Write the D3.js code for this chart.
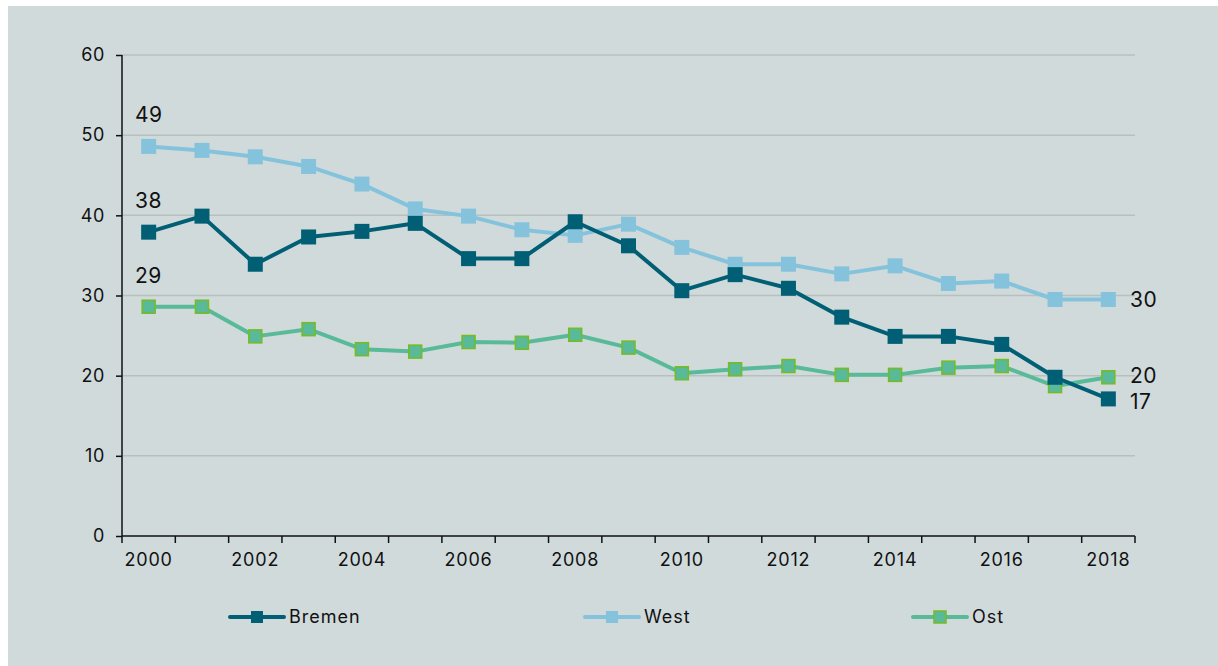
<!DOCTYPE html>
<html>
<head>
<meta charset="utf-8">
<script src="https://cdn.jsdelivr.net/npm/d3@7"></script>
<style>
  html, body { margin: 0; padding: 0; background: #fff; }
  svg { display: block; font-family: Inter, "Liberation Sans", sans-serif; }
</style>
</head>
<body>
<div class="container"></div>
<script>
const years = [2000, 2001, 2002, 2003, 2004, 2005, 2006, 2007, 2008, 2009,
               2010, 2011, 2012, 2013, 2014, 2015, 2016, 2017, 2018];
const bremen = [37.9, 39.9, 33.9, 37.3, 38.0, 39.0, 34.6, 34.6, 39.2, 36.2,
                30.6, 32.6, 30.9, 27.3, 24.9, 24.9, 23.9, 19.8, 17.1];
const west = [48.6, 48.1, 47.3, 46.1, 43.9, 40.8, 39.9, 38.2, 37.5, 38.9,
              36.0, 33.9, 33.9, 32.7, 33.7, 31.5, 31.8, 29.5, 29.5];
const ost = [28.6, 28.6, 24.9, 25.8, 23.3, 23.0, 24.2, 24.1, 25.1, 23.5,
             20.3, 20.8, 21.2, 20.1, 20.1, 21.0, 21.2, 18.7, 19.8];
const yTicks = [0, 10, 20, 30, 40, 50, 60];
const seriesNames = ["Bremen", "West", "Ost"];

const w = 1218, h = 666;
const plotLeft = 122, plotRight = 1135, plotTop = 55, plotBottom = 536;

const series = [
  {name: "Bremen", values: bremen, line: "#005f74", fill: "#005f74", stroke: "none", size: 15},
  {name: "West", values: west, line: "#85c3dc", fill: "#85c3dc", stroke: "none", size: 15},
  {name: "Ost", values: ost, line: "#58ba98", fill: "#58ba98", stroke: "#77bb1f", size: 13}
];

const svg = d3.select(".container").append("svg")
  .attr("width", w).attr("height", h);

svg.append("rect")
  .attr("x", 8).attr("y", 6)
  .attr("width", w - 8).attr("height", h - 6)
  .attr("fill", "#d0dadb");

const x = d3.scaleBand().domain(years).range([plotLeft, plotRight]);
const y = d3.scaleLinear().domain([0, 60]).range([plotBottom, plotTop]);

// gridlines
svg.append("g")
  .selectAll("line")
  .data(yTicks.filter(d => d > 0))
  .enter().append("line")
  .attr("x1", plotLeft).attr("x2", plotRight)
  .attr("y1", d => y(d)).attr("y2", d => y(d))
  .attr("stroke", "#b8c0bf")
  .attr("stroke-width", 1.5);

// y axis
const yAxis = svg.append("g")
  .attr("transform", "translate(" + plotLeft + ",0)")
  .call(d3.axisLeft(y).tickValues(yTicks).tickSize(6).tickPadding(11));
yAxis.select(".domain").attr("stroke", "#111").attr("stroke-width", 1.5)
  .attr("d", "M0," + plotBottom + "V" + plotTop);
yAxis.selectAll(".tick line").attr("stroke", "#111").attr("stroke-width", 1.5);
yAxis.selectAll("text").attr("font-size", 18).attr("fill", "#111")
  .attr("letter-spacing", 0.6)
  .attr("font-family", "Inter, 'Liberation Sans', sans-serif");

// x axis: ticks at band edges, labels every other year at band centres
const xAxis = svg.append("g").attr("transform", "translate(0," + plotBottom + ")");
xAxis.append("line")
  .attr("x1", plotLeft).attr("x2", plotRight)
  .attr("stroke", "#111").attr("stroke-width", 1.5);
const edges = years.map(d => x(d)).concat([plotRight]);
xAxis.selectAll(".xt").data(edges).enter().append("line")
  .attr("x1", d => d).attr("x2", d => d)
  .attr("y1", 0).attr("y2", 7)
  .attr("stroke", "#111").attr("stroke-width", 1.5);
xAxis.selectAll(".xl").data(years.filter(d => d % 2 === 0)).enter().append("text")
  .attr("x", d => x(d) + x.bandwidth() / 2)
  .attr("y", 30)
  .attr("text-anchor", "middle")
  .attr("font-size", 18).attr("letter-spacing", 0.8).attr("fill", "#111")
  .text(d => d);

const cx = (d, i) => x(years[i]) + x.bandwidth() / 2;
const line = d3.line().x(cx).y(d => y(d));

// Ost at the bottom, Bremen on top
const drawOrder = [series[2], series[1], series[0]];
drawOrder.forEach(s => {
  const g = svg.append("g");
  g.append("path")
    .datum(s.values)
    .attr("d", line)
    .attr("fill", "none")
    .attr("stroke", s.line)
    .attr("stroke-width", 4)
    .attr("stroke-linejoin", "round");
  g.selectAll("rect")
    .data(s.values)
    .enter().append("rect")
    .attr("x", (d, i) => cx(d, i) - s.size / 2)
    .attr("y", d => y(d) - s.size / 2)
    .attr("width", s.size).attr("height", s.size)
    .attr("fill", s.fill)
    .attr("stroke", s.stroke)
    .attr("stroke-width", 1.5);
});

// value labels
const labels = [
  {text: "49", px: x(2000) + 13, py: y(west[0]) - 24},
  {text: "38", px: x(2000) + 13, py: y(bremen[0]) - 24},
  {text: "29", px: x(2000) + 13, py: y(ost[0]) - 24},
  {text: "30", px: plotRight - 5, py: y(west[18]) + 7},
  {text: "20", px: plotRight - 5, py: y(ost[18]) + 6},
  {text: "17", px: plotRight - 5, py: y(bremen[18]) + 10}
];
svg.selectAll(".vl").data(labels).enter().append("text")
  .attr("x", d => d.px).attr("y", d => d.py)
  .attr("font-size", 21).attr("letter-spacing", 0.5).attr("fill", "#111")
  .text(d => d.text);

// legend
const legendX = [230, 585, 913];
series.forEach((s, i) => {
  const g = svg.append("g").attr("transform", "translate(" + legendX[i] + ",617)");
  g.append("line").attr("x1", 0).attr("x2", 54)
    .attr("stroke", s.line).attr("stroke-width", 4).attr("stroke-linecap", "round");
  g.append("rect").attr("x", 27 - 6).attr("y", -6)
    .attr("width", 12).attr("height", 12)
    .attr("fill", s.fill).attr("stroke", s.stroke).attr("stroke-width", 1.5);
  g.append("text").attr("x", 59).attr("y", 6)
    .attr("font-size", 18).attr("letter-spacing", 1).attr("fill", "#111")
    .text(seriesNames[i]);
});
</script>
</body>
</html>
